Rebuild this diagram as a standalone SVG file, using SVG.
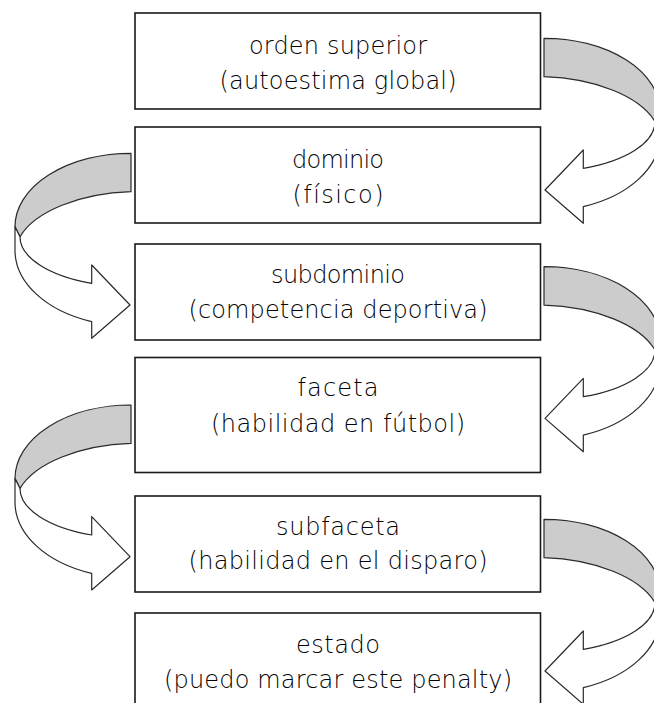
<svg xmlns="http://www.w3.org/2000/svg" xmlns:xlink="http://www.w3.org/1999/xlink" width="654" height="703" viewBox="0 0 654 703">
  <style>
    .box { fill: #ffffff; stroke: #1a1a1a; stroke-width: 1.6; }
    .lbl { font-family: "DejaVu Sans", "Liberation Sans", sans-serif; font-size: 24px; font-weight: 200; fill: #000000; text-anchor: middle; }
    .back { fill: #cccccc; stroke: #2a2a2a; stroke-width: 1.2; stroke-linejoin: round; }
    .front { fill: #ffffff; stroke: #2a2a2a; stroke-width: 1.2; stroke-linejoin: round; }
  </style>
  <defs>
    <!-- curved 3D ribbon arrow, drawn on the left side; y = 0 at the top of the band -->
    <g id="curvedArrow">
      <path class="back" d="M 131,0 A 116,73.4 0 0 0 15,73.4 L 20,83.4 C 35,58 80,40 131,38.4 Z"/>
      <path class="front" d="M 15,73.4 L 15,97 A 116,75.9 0 0 0 91.7,168.4 L 91.7,185 L 130,151.7 L 91.7,111.7 L 91.7,130 A 111,49.8 0 0 1 20,83.4 Z"/>
    </g>
  </defs>

  <rect width="654" height="703" fill="#ffffff"/>

  <!-- connectors -->
  <g id="connectors">
    <use xlink:href="#curvedArrow" transform="translate(675,38.3) scale(-1,1)"/>
    <use xlink:href="#curvedArrow" transform="translate(0,153.3)"/>
    <use xlink:href="#curvedArrow" transform="translate(675,266.7) scale(-1,1)"/>
    <use xlink:href="#curvedArrow" transform="translate(0,405)"/>
    <use xlink:href="#curvedArrow" transform="translate(675,519.3) scale(-1,1)"/>
  </g>

  <!-- nodes -->
  <g id="orden-superior">
    <rect class="box" x="135" y="13" width="405.5" height="96"/>
    <text class="lbl" x="338" y="54.3" textLength="178">orden superior</text>
    <text class="lbl" x="338" y="88.5" textLength="237">(autoestima global)</text>
  </g>
  <g id="dominio">
    <rect class="box" x="135" y="127" width="405.5" height="96"/>
    <text class="lbl" x="338" y="168.3" textLength="92">dominio</text>
    <text class="lbl" x="338" y="203.3" textLength="91">(físico)</text>
  </g>
  <g id="subdominio">
    <rect class="box" x="135" y="244" width="405.5" height="96"/>
    <text class="lbl" x="338" y="282.7" textLength="134">subdominio</text>
    <text class="lbl" x="338" y="318.3" textLength="299">(competencia deportiva)</text>
  </g>
  <g id="faceta">
    <rect class="box" x="135" y="357.5" width="405.5" height="115"/>
    <text class="lbl" x="338" y="395.7" textLength="81">faceta</text>
    <text class="lbl" x="338" y="431.7" textLength="254">(habilidad en fútbol)</text>
  </g>
  <g id="subfaceta">
    <rect class="box" x="135" y="496" width="405.5" height="96"/>
    <text class="lbl" x="338" y="535" textLength="124">subfaceta</text>
    <text class="lbl" x="338" y="569.3" textLength="299">(habilidad en el disparo)</text>
  </g>
  <g id="estado">
    <rect class="box" x="135" y="613" width="405.5" height="100"/>
    <text class="lbl" x="338" y="653.3" textLength="84">estado</text>
    <text class="lbl" x="338" y="688.3" textLength="348">(puedo marcar este penalty)</text>
  </g>
</svg>
